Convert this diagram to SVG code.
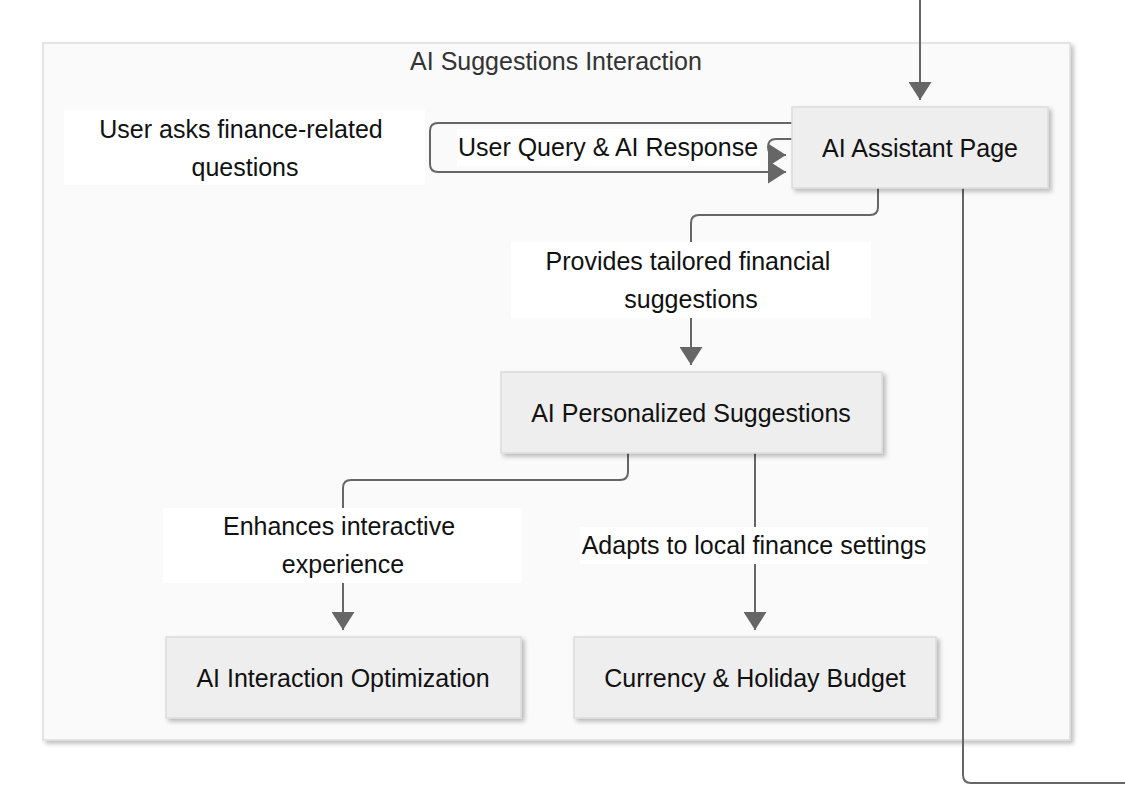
<svg xmlns="http://www.w3.org/2000/svg" width="1125" height="801" viewBox="0 0 1125 801">
<style>
text{font-family:"Liberation Sans",Arial,sans-serif;font-size:25px;fill:#111;text-anchor:middle}
.title{fill:#333}
.node rect{fill:#eeeeee;stroke:#dcdcdc;stroke-width:1.5}
.edge{fill:none;stroke:#666;stroke-width:2}
.lbl{fill:#ffffff}
</style>
<defs>
<filter id="sh" x="-10%" y="-10%" width="130%" height="140%">
<feDropShadow dx="3" dy="3" stdDeviation="2" flood-color="#000" flood-opacity="0.25"/>
</filter>
<marker id="ah" markerUnits="userSpaceOnUse" markerWidth="18" markerHeight="23" refX="18" refY="11.5" orient="auto">
<path d="M0,0 L18,11.5 L0,23 Z" fill="#666"/>
</marker>
</defs>
<rect width="1125" height="801" fill="#ffffff"/>
<g id="cluster">
<rect x="43" y="43" width="1027" height="697" fill="#fafafa" stroke="#dddddd" stroke-width="1.5" filter="url(#sh)"/>
<text class="title" x="556" y="70">AI Suggestions Interaction</text>
</g>
<g id="connectors">
<path class="edge" d="M920,0 L920,100" marker-end="url(#ah)"/>
<path class="edge" d="M793,123 L438,123 Q430,123 430,131 L430,164 Q430,172 438,172 L786,172" marker-end="url(#ah)"/>
<path class="edge" d="M793,139 L776,139 Q768,139 768,147 Q768,155 776,155 L786,155" marker-end="url(#ah)"/>
<path class="edge" d="M878,188 L878,207 Q878,215 870,215 L699,215 Q691,215 691,223 L691,365" marker-end="url(#ah)"/>
<path class="edge" d="M628,453 L628,472 Q628,480 620,480 L351,480 Q343,480 343,488 L343,630" marker-end="url(#ah)"/>
<path class="edge" d="M755,453 L755,630" marker-end="url(#ah)"/>
<path class="edge" d="M963,188 L963,775 Q963,783 971,783 L1125,783"/>
</g>
<g id="edge-labels">
<g id="lbl-user-asks">
<rect class="lbl" x="64" y="110" width="361" height="75"/>
<text x="241" y="138">User asks finance-related</text>
<text x="245" y="176">questions</text>
</g>
<g id="lbl-user-query">
<rect class="lbl" x="457" y="129" width="303" height="37"/>
<text x="608" y="156">User Query &amp; AI Response</text>
</g>
<g id="lbl-provides">
<rect class="lbl" x="511" y="242" width="360" height="76"/>
<text x="688" y="270">Provides tailored financial</text>
<text x="691" y="308">suggestions</text>
</g>
<g id="lbl-enhances">
<rect class="lbl" x="163" y="508" width="359" height="75"/>
<text x="339" y="535">Enhances interactive</text>
<text x="343" y="573">experience</text>
</g>
<g id="lbl-adapts">
<rect class="lbl" x="580" y="527" width="348" height="37"/>
<text x="754" y="554">Adapts to local finance settings</text>
</g>
</g>
<g id="node-ai-assistant" class="node">
<rect x="792" y="107" width="256" height="81" filter="url(#sh)"/>
<text x="920" y="157">AI Assistant Page</text>
</g>
<g id="node-ai-personalized" class="node">
<rect x="501" y="372" width="381" height="81" filter="url(#sh)"/>
<text x="691" y="422">AI Personalized Suggestions</text>
</g>
<g id="node-ai-interaction" class="node">
<rect x="166" y="637" width="355" height="81" filter="url(#sh)"/>
<text x="343" y="687">AI Interaction Optimization</text>
</g>
<g id="node-currency" class="node">
<rect x="574" y="637" width="362" height="81" filter="url(#sh)"/>
<text x="755" y="687">Currency &amp; Holiday Budget</text>
</g>
</svg>
